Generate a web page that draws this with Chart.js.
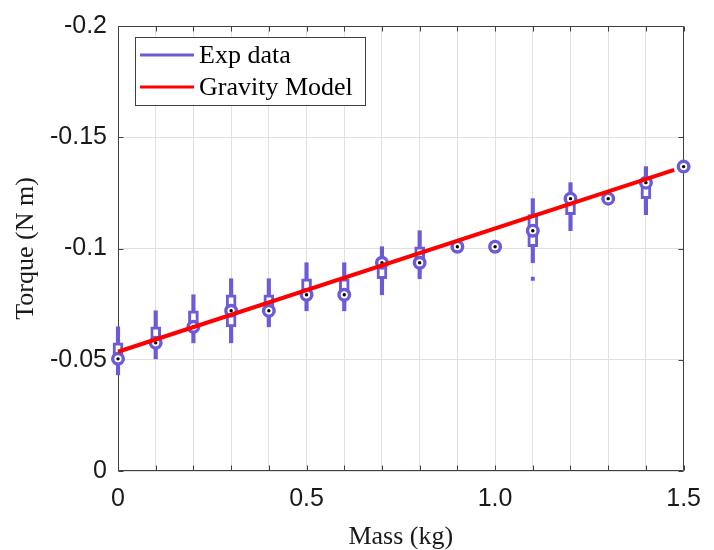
<!DOCTYPE html>
<html>
<head>
<meta charset="utf-8">
<title>Torque vs mass</title>
<script src="https://cdn.jsdelivr.net/npm/chart.js@4.4.1/dist/chart.umd.min.js"></script>
<style>
  html, body { margin: 0; padding: 0; background: #fff; }
  #wrap { width: 714px; height: 550px; }
</style>
</head>
<body>
<div id="wrap"><canvas id="chart" width="714" height="550"></canvas></div>
<script>
// Измерения: масса груза (кг) и момент (Н·м). Сенсор квантует момент шагом ~0.0072.
const masses    = [0, 0.1, 0.2, 0.3, 0.4, 0.5, 0.6, 0.7, 0.8, 0.9, 1.0, 1.1, 1.2, 1.3, 1.4, 1.5];
const medians   = [-0.0504, -0.0576, -0.0648, -0.0720, -0.0720, -0.0792, -0.0792, -0.0936,
                   -0.0936, -0.1008, -0.1008, -0.1080, -0.1224, -0.1224, -0.1296, -0.1368];
// Квартили (коробка) и усы; null — у точки нет разброса.
const boxLow    = [-0.0504, -0.0576, -0.0648, -0.0648, -0.0720, -0.0792, -0.0792, -0.0864,
                   -0.0936, null, null, -0.1008, -0.1152, null, -0.1224, null];
const boxHigh   = [-0.0576, -0.0648, -0.0720, -0.0792, -0.0792, -0.0864, -0.0864, -0.0936,
                   -0.1008, null, null, -0.1152, -0.1224, null, -0.1296, null];
const whiskLow  = [-0.0432, -0.0504, -0.0576, -0.0576, -0.0648, -0.0720, -0.0720, -0.0792,
                   -0.0864, null, null, -0.0936, -0.1080, null, -0.1152, null];
const whiskHigh = [-0.0648, -0.0720, -0.0792, -0.0864, -0.0864, -0.0936, -0.0936, -0.1008,
                   -0.1080, null, null, -0.1224, -0.1296, null, -0.1368, null];
const outlierX  = [1.1];
const outlierY  = [-0.0864];

// Гравитационная модель (прямая).
const modelX = [0, 1.475];
const modelY = [-0.0536, -0.1353];

const xTickValues = [0, 0.5, 1.0, 1.5];
const xTickLabels = ['0', '0.5', '1.0', '1.5'];
const yTickLabels = { '-0.2': '-0.2', '-0.15': '-0.15', '-0.1': '-0.1', '-0.05': '-0.05', '0': '0' };
const legendOrder = ['Exp data', 'Gravity Model'];

const PURPLE = '#6b5bd6';
const RED = '#ff0000';
const AXIS = '#404040';
const GRID = '#e0e0e0';
const TEXT = '#1a1a1a';

function pairs(xs, ys) {
  return xs.map((x, i) => ({ x, y: ys[i] })).filter((p) => p.y !== null);
}
function ranges(lo, hi) {
  return masses.map((x, i) => (lo[i] === null ? null : { x, y: [lo[i], hi[i]] })).filter(Boolean);
}

// Рамка осей с внутренними засечками (как в MATLAB), рисуется под данными.
const frame = {
  id: 'frame',
  beforeDatasetsDraw(chart) {
    const { ctx, chartArea: a, scales: { x, y } } = chart;
    const L = Math.round(a.left) + 0.5, R = Math.round(a.right) - 0.5;
    const T = Math.round(a.top) + 0.5, B = Math.round(a.bottom) - 0.5;
    ctx.save();
    ctx.strokeStyle = AXIS;
    ctx.lineWidth = 1;
    ctx.beginPath();
    ctx.rect(L, T, R - L, B - T);
    const tl = 5;
    x.ticks.forEach((t) => {
      const px = Math.round(x.getPixelForValue(t.value)) + 0.5;
      ctx.moveTo(px, B); ctx.lineTo(px, B - tl);
      ctx.moveTo(px, T); ctx.lineTo(px, T + tl);
    });
    y.ticks.forEach((t) => {
      const py = Math.round(y.getPixelForValue(t.value)) + 0.5;
      ctx.moveTo(L, py); ctx.lineTo(L + tl, py);
      ctx.moveTo(R, py); ctx.lineTo(R - tl, py);
    });
    ctx.stroke();
    ctx.restore();
  },
};

// Легенда в рамке в левом верхнем углу области графика.
const legendBox = {
  id: 'legendBox',
  afterDraw(chart) {
    const { ctx } = chart;
    const items = legendOrder.map((name) => chart.data.datasets.find((d) => d.label === name));
    const x = 135, y = 37, w = 230, h = 68;
    ctx.save();
    ctx.fillStyle = '#ffffff';
    ctx.fillRect(x, y, w, h);
    ctx.strokeStyle = AXIS;
    ctx.lineWidth = 1;
    ctx.strokeRect(x + 0.5, y + 0.5, w, h);
    ctx.font = '26px "Liberation Serif", "Times New Roman", serif';
    ctx.textBaseline = 'middle';
    ctx.textAlign = 'left';
    items.forEach((d, i) => {
      const cy = y + 18 + i * 32;
      ctx.strokeStyle = d.legendColor;
      ctx.lineWidth = 3;
      ctx.beginPath();
      ctx.moveTo(x + 5, cy);
      ctx.lineTo(x + 59, cy);
      ctx.stroke();
      ctx.fillStyle = '#000';
      ctx.fillText(d.label, x + 64, cy + 1);
    });
    ctx.restore();
  },
};

new Chart(document.getElementById('chart'), {
  type: 'bar',
  data: {
    datasets: [
      {
        type: 'line',
        label: 'Gravity Model',
        legendColor: RED,
        data: pairs(modelX, modelY),
        borderColor: RED,
        borderWidth: 4,
        pointRadius: 0,
        clip: false,
        order: 0,
      },
      {
        type: 'scatter',
        label: 'dots',
        data: pairs(masses, medians),
        pointRadius: 1.7,
        pointBackgroundColor: '#000',
        pointBorderWidth: 0,
        clip: false,
        order: 1,
      },
      {
        type: 'scatter',
        label: 'medians',
        data: pairs(masses, medians),
        pointRadius: 5.3,
        pointBorderWidth: 3.4,
        pointBorderColor: PURPLE,
        pointBackgroundColor: '#fff',
        clip: false,
        order: 2,
      },
      {
        type: 'scatter',
        label: 'outliers',
        data: pairs(outlierX, outlierY),
        pointStyle: 'rect',
        pointRadius: 2.8,
        pointBorderWidth: 0,
        pointBackgroundColor: PURPLE,
        clip: false,
        order: 3,
      },
      {
        type: 'bar',
        label: 'boxes',
        data: ranges(boxLow, boxHigh),
        barThickness: 10,
        grouped: false,
        backgroundColor: '#fff',
        borderColor: PURPLE,
        borderWidth: 3,
        borderSkipped: false,
        clip: false,
        order: 4,
      },
      {
        type: 'bar',
        label: 'Exp data',
        legendColor: PURPLE,
        data: ranges(whiskLow, whiskHigh),
        barThickness: 3.5,
        grouped: false,
        backgroundColor: PURPLE,
        borderWidth: 0,
        clip: false,
        order: 5,
      },
    ],
  },
  options: {
    responsive: false,
    animation: false,
    events: [],
    layout: { padding: { top: 23, right: 21, left: 0, bottom: 0 } },
    plugins: { legend: { display: false }, tooltip: { enabled: false } },
    scales: {
      x: {
        type: 'linear',
        min: 0,
        max: 1.5,
        offset: false,
        afterFit: (s) => { s.height = 79; },
        grid: { color: GRID, drawTicks: false, offset: false },
        border: { display: false },
        ticks: {
          stepSize: 0.1,
          autoSkip: false,
          maxRotation: 0,
          padding: 13,
          color: TEXT,
          font: { family: '"Liberation Sans", Arial, sans-serif', size: 25 },
          callback: (v) => {
            const i = xTickValues.findIndex((t) => Math.abs(t - v) < 1e-6);
            return i >= 0 ? xTickLabels[i] : '';
          },
        },
        title: {
          display: true,
          text: 'Mass (kg)',
          color: TEXT,
          padding: { top: 0, bottom: 0 },
          font: { family: '"Liberation Serif", "Times New Roman", serif', size: 26, lineHeight: 1 },
        },
      },
      y: {
        type: 'linear',
        min: -0.2,
        max: 0,
        reverse: true,
        afterFit: (s) => { s.width = 118; },
        grid: { color: GRID, drawTicks: false },
        border: { display: false },
        ticks: {
          stepSize: 0.05,
          padding: 11,
          color: TEXT,
          font: { family: '"Liberation Sans", Arial, sans-serif', size: 25 },
          callback: (v) => yTickLabels[String(Number(v.toFixed(2)))] ?? '',
        },
        title: {
          display: true,
          text: 'Torque (N m)',
          color: TEXT,
          padding: { top: 13, bottom: 0 },
          font: { family: '"Liberation Serif", "Times New Roman", serif', size: 26, lineHeight: 1 },
        },
      },
    },
  },
  plugins: [frame, legendBox],
});
</script>
</body>
</html>
